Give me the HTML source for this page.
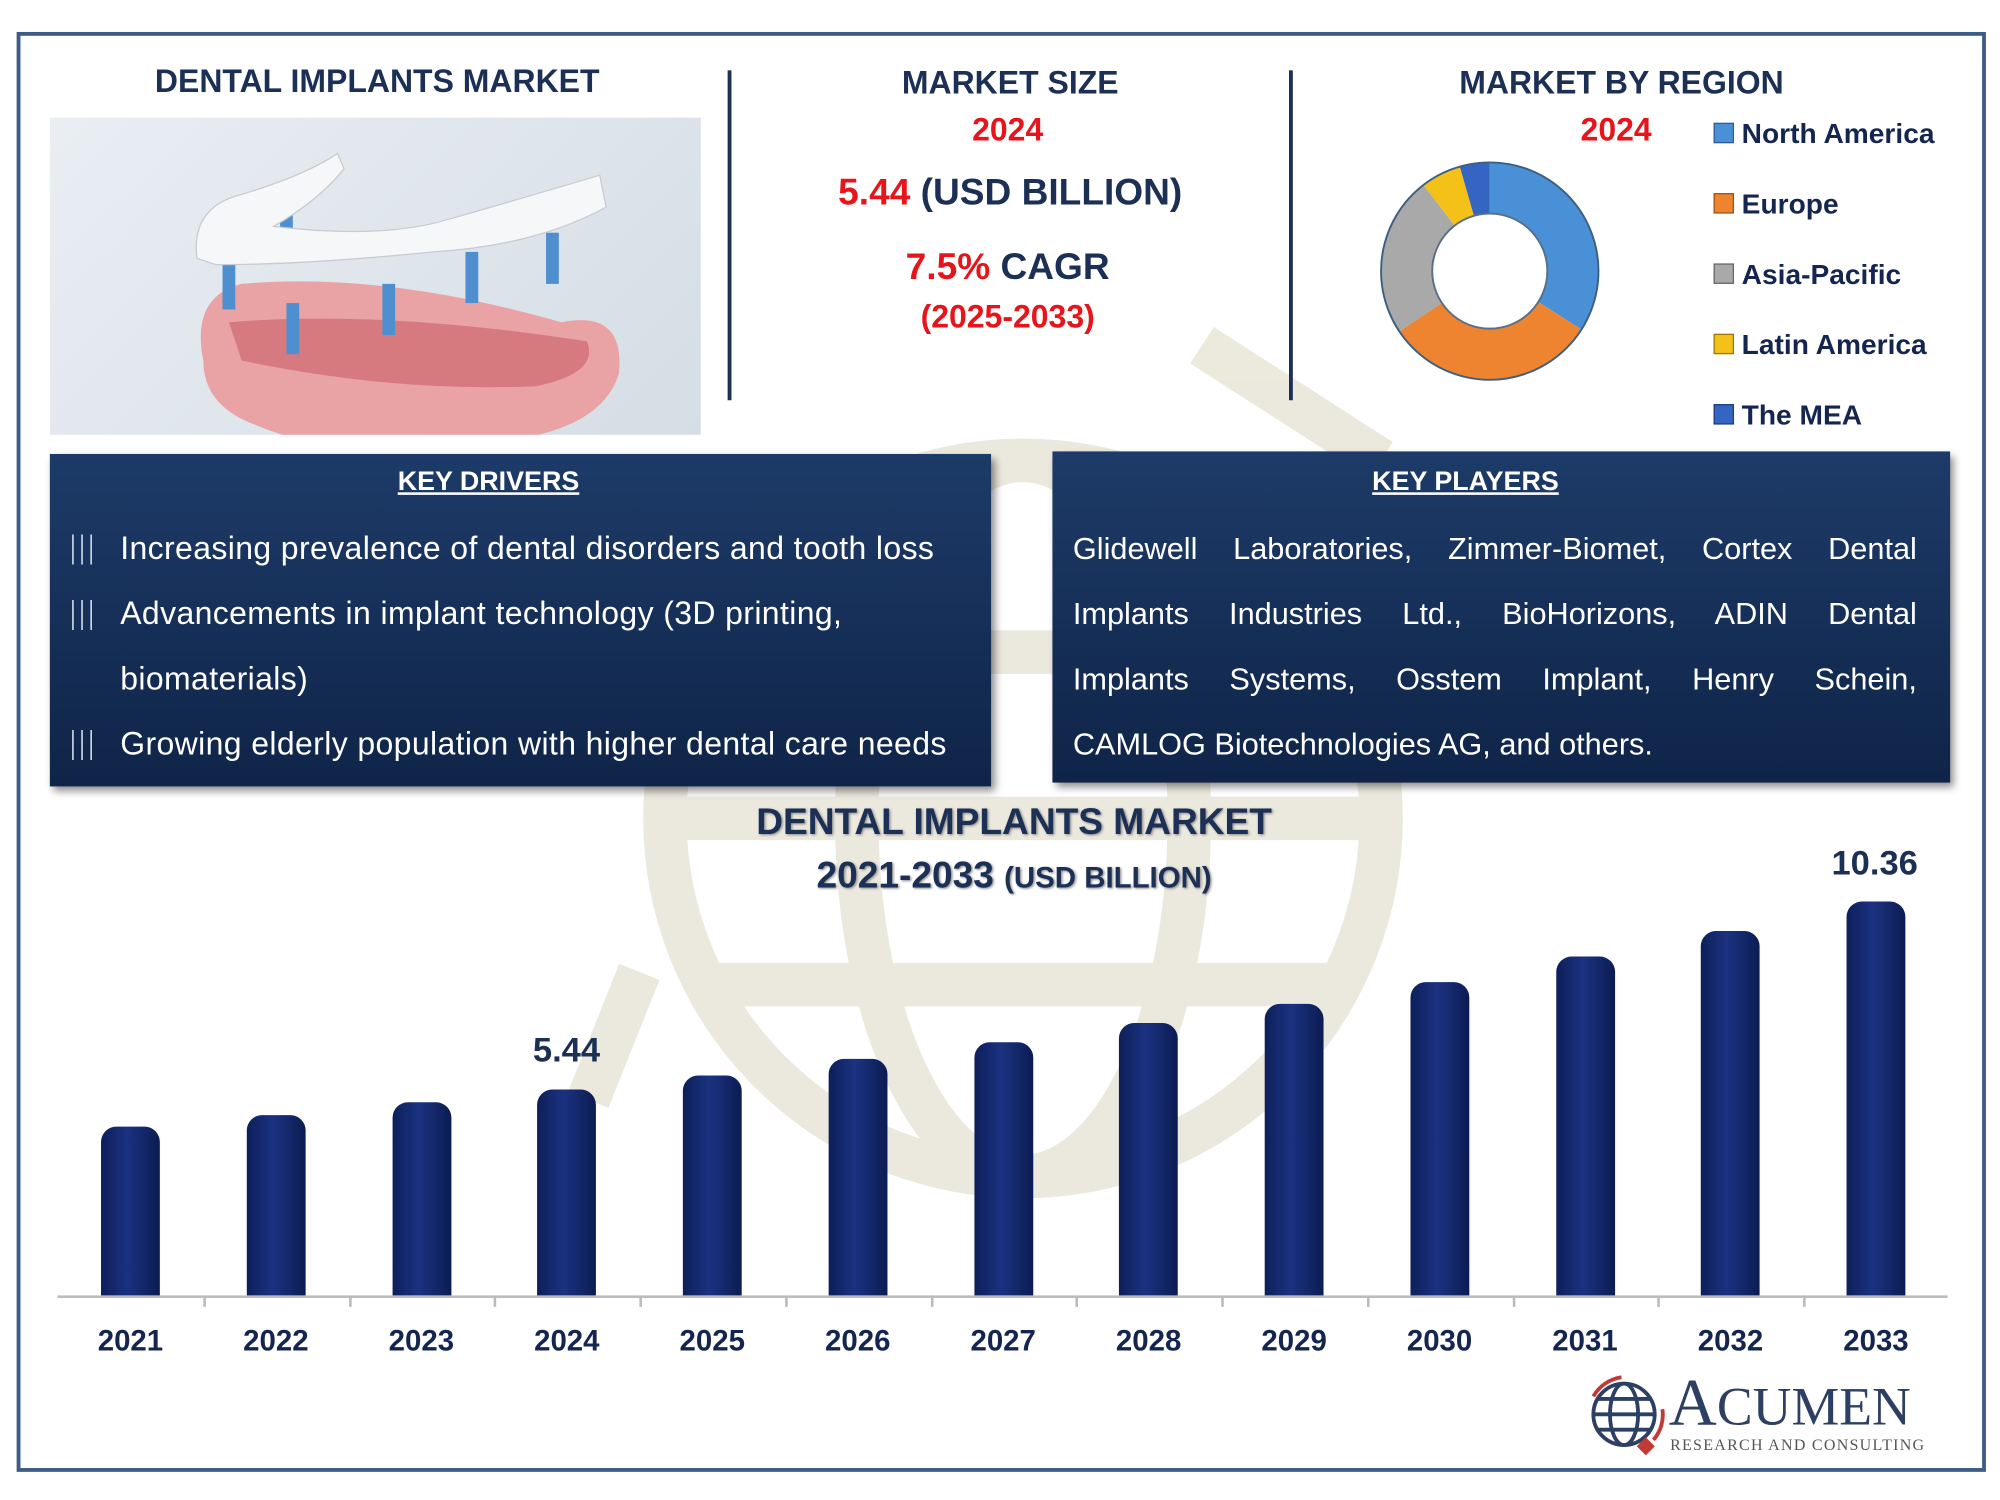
<!DOCTYPE html>
<html><head><meta charset="utf-8"><style>
html,body{margin:0;padding:0;background:#fff;}
body{width:2000px;height:1500px;overflow:hidden;position:relative;}
#w{position:absolute;left:0;top:0;width:1564px;height:1173px;transform-origin:0 0;transform:scale(1.27877,1.27877);font-family:"Liberation Sans",sans-serif;}
.a{position:absolute;}
.h{color:#1c2f55;font-weight:bold;font-size:25px;text-align:center;}
.red{color:#e8141b;font-weight:bold;}
.box{background:linear-gradient(#1d3b68,#0f2448);box-shadow:3px 4px 6px rgba(0,0,0,.45);color:#fff;}
.bar{position:absolute;width:46px;background:linear-gradient(90deg,#0d1f5a,#1b3281 45%,#0c1c52);border-radius:12px 12px 0 0;}
.yr{position:absolute;top:1035px;width:80px;text-align:center;font-weight:bold;font-size:23px;color:#142650;}
.dl{font-size:25px;line-height:51px;letter-spacing:0.3px;white-space:nowrap;}
.ic{position:absolute;left:14px;color:#c9d3e3;font-style:italic;font-size:26px;font-family:"Liberation Serif",serif;}
.pl div{text-align:justify;text-align-last:justify;height:51px;}
.pl div.last{text-align-last:left;}
</style></head><body><div id="w">
<div class="a" style="left:13px;top:25px;width:1534px;height:1120px;border:3px solid #3b5d88;"></div>
<svg class="a" style="left:380px;top:240px" width="900" height="700" viewBox="0 0 900 700">
<g fill="none" stroke="#e7e3d5" stroke-width="34" opacity=".8">
<circle cx="420" cy="400" r="280"/><ellipse cx="420" cy="400" rx="130" ry="280"/>
<line x1="140" y1="400" x2="700" y2="400"/><path d="M170 270 H670 M170 530 H670"/>
<path d="M120 520 L80 620 M560 30 L700 120"/></g></svg>

<div class="a h" style="left:40px;top:50px;width:510px;">DENTAL IMPLANTS MARKET</div>
<div class="a" style="left:39px;top:92px;width:509px;height:248px;background:linear-gradient(135deg,#e9eef3,#d5dde5);"></div>
<svg class="a" style="left:39px;top:92px" width="509" height="248">
<path d="M120 190 Q110 140 150 130 Q260 120 400 160 Q450 150 445 200 Q430 250 330 255 Q230 270 160 240 Q120 225 120 190Z" fill="#e9a3a5"/>
<path d="M140 160 Q260 150 420 175 Q430 200 380 210 Q270 215 150 190Z" fill="#d77a80"/>
<g fill="#4f8fd0"><rect x="135" y="110" width="10" height="40"/><rect x="185" y="145" width="10" height="40"/><rect x="260" y="130" width="10" height="40"/><rect x="325" y="105" width="10" height="40"/><rect x="388" y="90" width="10" height="40"/><rect x="180" y="65" width="10" height="30"/></g>
<path d="M115 110 Q110 70 150 60 Q200 45 225 28 L230 40 Q210 65 175 85 Q260 95 310 80 Q380 60 430 45 L435 70 Q380 100 300 105 Q200 115 130 115Z" fill="#f6f7f8" stroke="#c8ccd2"/>
</svg>

<div class="a" style="left:569px;top:55px;width:3px;height:258px;background:#1c2f55;"></div>
<div class="a" style="left:1008px;top:55px;width:3px;height:258px;background:#1c2f55;"></div>

<div class="a h" style="left:590px;top:51px;width:400px;">MARKET SIZE</div>
<div class="a red" style="left:588px;top:88px;width:400px;text-align:center;font-size:25px;">2024</div>
<div class="a h" style="left:590px;top:135px;width:400px;font-size:29px;"><span class="red">5.44</span> (USD BILLION)</div>
<div class="a h" style="left:588px;top:193px;width:400px;font-size:29px;"><span class="red">7.5%</span> CAGR</div>
<div class="a red" style="left:588px;top:234px;width:400px;text-align:center;font-size:25px;">(2025-2033)</div>

<div class="a h" style="left:1078px;top:51px;width:380px;">MARKET BY REGION</div>
<div class="a red" style="left:1236px;top:88px;font-size:25px;">2024</div>
<svg class="a" style="left:1070px;top:117px" width="190" height="190" viewBox="0 0 190 190">
<g transform="rotate(-90 95 95)" fill="none" stroke-width="40">
<circle cx="95" cy="95" r="65" stroke="#4a90d6" stroke-dasharray="138.9 300" stroke-dashoffset="0"/>
<circle cx="95" cy="95" r="65" stroke="#ee8430" stroke-dasharray="129.1 300" stroke-dashoffset="-138.9"/>
<circle cx="95" cy="95" r="65" stroke="#a9a9a9" stroke-dasharray="97.6 320" stroke-dashoffset="-268"/>
<circle cx="95" cy="95" r="65" stroke="#f3c117" stroke-dasharray="24.5 400" stroke-dashoffset="-365.6"/>
<circle cx="95" cy="95" r="65" stroke="#3565c3" stroke-dasharray="18.3 400" stroke-dashoffset="-390.1"/>
</g>
<circle cx="95" cy="95" r="85" fill="none" stroke="#3d5f80" stroke-width="1.5"/>
<circle cx="95" cy="95" r="45" fill="none" stroke="#5a6f86" stroke-width="1.5"/>
</svg>
<div class="a" style="left:1340px;top:77px;font-size:22px;font-weight:bold;color:#142650;line-height:55px;">
<div><span style="display:inline-block;width:14px;height:14px;background:#4a90d6;border:1px solid #2e5f98;margin-right:6px"></span>North America</div>
<div><span style="display:inline-block;width:14px;height:14px;background:#ee8430;border:1px solid #a65010;margin-right:6px"></span>Europe</div>
<div><span style="display:inline-block;width:14px;height:14px;background:#a9a9a9;border:1px solid #666;margin-right:6px"></span>Asia-Pacific</div>
<div><span style="display:inline-block;width:14px;height:14px;background:#f3c117;border:1px solid #a07800;margin-right:6px"></span>Latin America</div>
<div><span style="display:inline-block;width:14px;height:14px;background:#3565c3;border:1px solid #1d3d80;margin-right:6px"></span>The MEA</div>
</div>

<div class="a box" style="left:39px;top:355px;width:736px;height:260px;">
<div style="position:absolute;left:0;width:686px;text-align:center;top:10px;font-weight:bold;font-size:21px;text-decoration:underline;">KEY DRIVERS</div>
<div class="a dl" style="left:55px;top:49px;">Increasing prevalence of dental disorders and tooth loss<br>Advancements in implant technology (3D printing,<br>biomaterials)<br>Growing elderly population with higher dental care needs</div>
<div class="ic" style="top:58px">|||</div><div class="ic" style="top:109px">|||</div><div class="ic" style="top:211px">|||</div>
</div>
<div class="a box" style="left:823px;top:353px;width:702px;height:259px;">
<div style="position:absolute;left:0;width:646px;text-align:center;top:12px;font-weight:bold;font-size:21px;text-decoration:underline;">KEY PLAYERS</div>
<div class="a dl pl" style="left:16px;top:51px;width:660px;font-size:24px;letter-spacing:0;">
<div>Glidewell Laboratories, Zimmer-Biomet, Cortex Dental</div>
<div>Implants Industries Ltd., BioHorizons, ADIN Dental</div>
<div>Implants Systems, Osstem Implant, Henry Schein,</div>
<div class="last">CAMLOG Biotechnologies AG, and others.</div>
</div>
</div>

<div class="a h" style="left:498px;top:627px;width:590px;font-size:29px;text-shadow:1px 1px 2px #888;">DENTAL IMPLANTS MARKET</div>
<div class="a h" style="left:498px;top:669px;width:590px;font-size:29px;text-shadow:1px 1px 2px #888;">2021-2033 <span style="font-size:23px">(USD BILLION)</span></div>

<div class="a" style="left:45px;top:1013px;width:1478px;height:2px;background:#bbb;"></div>
<div id="bars"></div>
<div class="a h" style="left:393px;top:806px;width:100px;font-size:27px;">5.44</div>
<div class="a h" style="left:1416px;top:660px;width:100px;font-size:27px;">10.36</div>

<svg class="a" style="left:1238px;top:1074px" width="70" height="70" viewBox="0 0 70 70">
<g fill="none" stroke="#2d3f63" stroke-width="3"><circle cx="32" cy="32" r="24"/><ellipse cx="32" cy="32" rx="11" ry="24"/><path d="M8 32H56M12 20H52M12 44H52"/></g>
<path d="M8 18 A30 30 0 0 1 30 3 M62 28 A30 30 0 0 1 55 52" stroke="#c23a35" stroke-width="3" fill="none"/>
<rect x="44" y="52" width="10" height="10" fill="#c23a35" transform="rotate(45 49 57)"/></svg>
<div class="a" style="left:1305px;top:1072px;font-family:'Liberation Serif',serif;color:#2d3f63;font-size:52px;line-height:52px;">A<span style="font-size:42px">CUMEN</span></div>
<div class="a" style="left:1306px;top:1123px;font-family:'Liberation Serif',serif;color:#555;font-size:12.5px;letter-spacing:1px;">RESEARCH AND CONSULTING</div>
</div>
<script>
var tops=[881,872,862,852,841,828,815,800,785,768,748,728,705];var h='';
for(var i=0;i<13;i++){var cx=102+113.75*i;h+='<div class="bar" style="left:'+(cx-23)+'px;top:'+tops[i]+'px;height:'+(1013-tops[i])+'px"></div>';
h+='<div class="yr" style="left:'+(cx-40)+'px">'+(2021+i)+'</div>';
if(i>0)h+='<div class="a" style="left:'+(cx-57)+'px;top:1013px;width:2px;height:9px;background:#bbb"></div>';}
document.getElementById('bars').innerHTML=h;
</script>
</body></html>
